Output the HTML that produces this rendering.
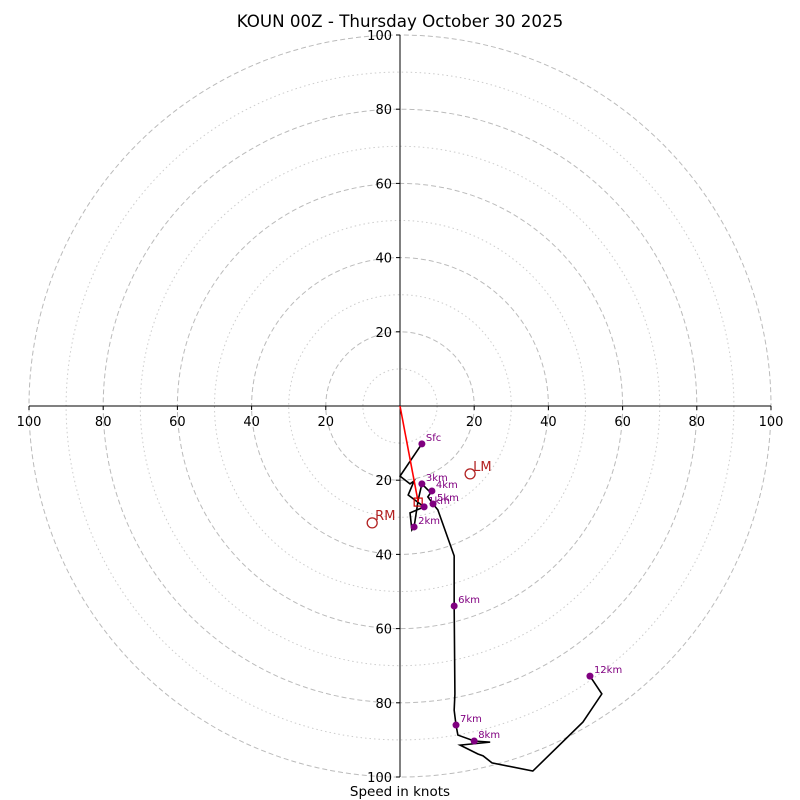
<!DOCTYPE html>
<html><head><meta charset="utf-8"><style>
body{margin:0;background:#fff;}
svg{display:block;font-family:"DejaVu Sans","Liberation Sans",sans-serif;}
</style></head><body>
<svg id="c" width="800" height="800">
<text x="400" y="27" text-anchor="middle" font-size="16.7">KOUN 00Z - Thursday October 30 2025</text>
<text x="400" y="796" text-anchor="middle" font-size="13.5">Speed in knots</text>
<g id="rings"></g><g id="axes"></g><g id="trace"></g><g id="marks"></g>
</svg>
<script>
const ringSpeeds=[10,20,30,40,50,60,70,80,90,100];
const tickLabels=[20,40,60,80,100];
// hodograph u,v in knots
const traceU=[5.9,0,2.7,3.8,2.2,6.5,2.7,3.2,3.8,4.9,5.9,7.8,8.6,7.5,8.9,10.2,14.6,14.6,14.8,14.6,15.1,15.6,20.0,24.3,16.2,21.0,22.4,24.8,35.8,49.3,54.4,51.2];
const traceV=[-10.2,-18.9,-21.0,-20.2,-24.0,-27.2,-28.8,-33.4,-32.6,-25.3,-21.0,-22.9,-22.9,-24.5,-26.4,-28.0,-40.4,-53.9,-77.6,-82.0,-86.0,-88.7,-90.3,-90.6,-91.4,-93.8,-94.3,-96.2,-98.4,-85.2,-77.6,-72.8];
const levelNames=["Sfc","1km","2km","3km","4km","5km","6km","7km","8km","12km"];
const levelIdx=[0,5,8,10,12,14,17,20,22,31];
const stormNames=["RM","LM"];
const stormU=[-7.5,18.9];
const stormV=[-31.5,-18.3];
const meanU=[4.9];const meanV=[-25.9];
const cx=400,cy=406,R=371;
const sc=R/100;
const X=u=>cx+u*sc, Y=v=>cy-v*sc;
const NS="http://www.w3.org/2000/svg";
function mk(t,p,a){const e=document.createElementNS(NS,t);for(const k in a)e.setAttribute(k,a[k]);p.appendChild(e);return e;}
const rings=document.getElementById('rings');
ringSpeeds.forEach(s=>{
 const c=mk('circle',rings,{cx:cx,cy:cy,r:s*sc,fill:'none',stroke:s%20===0?'#bbbbbb':'#cccccc','stroke-width':1,'stroke-dasharray':s%20===0?'5,3':'1.5,3'});
 
 
});
const ax=document.getElementById('axes');
let l=mk('line',ax,{x1:X(-100),y1:cy,x2:X(100),y2:cy,stroke:'#000','stroke-width':1});


l=mk('line',ax,{x1:cx,y1:Y(100),x2:cx,y2:Y(-100),stroke:'#000','stroke-width':1});


tickLabels.forEach(t=>{
 [-1,1].forEach(sg=>{
  mk('line',ax,{x1:X(sg*t),y1:cy,x2:X(sg*t),y2:cy+4,stroke:'#000'});
  const tx=mk('text',ax,{x:X(sg*t),y:cy+20,'text-anchor':'middle','font-size':13});
  tx.textContent=t;
  
  
  mk('line',ax,{x1:cx-4,y1:Y(sg*t),x2:cx,y2:Y(sg*t),stroke:'#000'});
  const ty=mk('text',ax,{x:cx-8,y:Y(sg*t)+5,'text-anchor':'end','font-size':13});
  ty.textContent=t;
  
  
 });
});
const tr=document.getElementById('trace');
const pl=mk('polyline',tr,{points:traceU.map((u,i)=>X(u)+','+Y(traceV[i])).join(' '),fill:'none',stroke:'#000','stroke-width':1.6});


const mv=mk('line',tr,{x1:cx,y1:cy,x2:X(meanU[0]),y2:Y(meanV[0]),stroke:'red','stroke-width':1.6});


const bx=mk('rect',tr,{x:X(meanU[0])-4,y:Y(meanV[0])-4,width:8,height:8,fill:'none',stroke:'#c00','stroke-width':1.2});


const mg=document.getElementById('marks');
levelIdx.forEach((k,i)=>{
 const d=mk('circle',mg,{cx:X(traceU[k]),cy:Y(traceV[k]),r:3.5,fill:'purple'});
 
 
 const t=mk('text',mg,{x:X(traceU[k])+4,y:Y(traceV[k])-3,'font-size':10,fill:'purple'});
 t.textContent=levelNames[i];
 
 
});
stormNames.forEach((n,i)=>{
 const c=mk('circle',mg,{cx:X(stormU[i]),cy:Y(stormV[i]),r:5,fill:'none',stroke:'#b22222','stroke-width':1.3});
 
 
 const t=mk('text',mg,{x:X(stormU[i])+3,y:Y(stormV[i])-3,'font-size':13,fill:'#b22222'});
 t.textContent=n;
 
 
});
</script>
</body></html>
